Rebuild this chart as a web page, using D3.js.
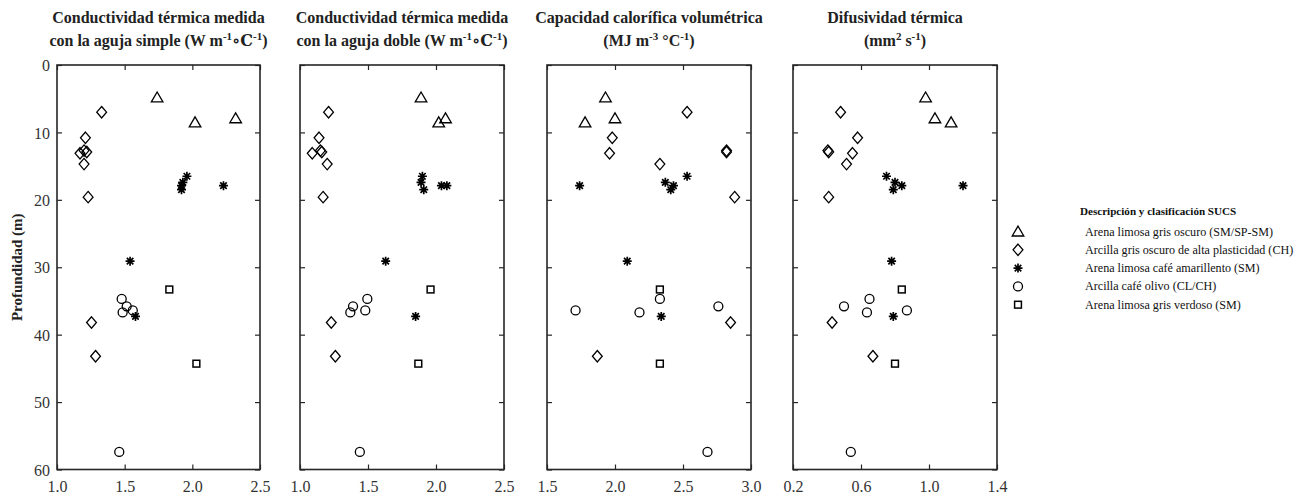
<!DOCTYPE html>
<html><head><meta charset="utf-8">
<script src="https://cdn.jsdelivr.net/npm/d3@7"></script>
<style>
body{margin:0;background:#fff;}
svg{display:block;font-family:"Liberation Serif","Times New Roman",serif;}
</style></head>
<body><svg id="chart" width="1310" height="498"></svg>
<script>
// ---- Data (depth in m) ----
const depthTri = [4.8, 7.9, 8.5];
const depthDia = [7.0, 10.8, 12.7, 12.9, 13.1, 14.7, 19.6, 38.2, 43.2];
const depthAst = [16.5, 17.4, 18.5, 17.9, 17.9, 29.1, 37.3];
const depthCir = [34.7, 35.8, 36.4, 36.7, 57.4];
const depthSq  = [33.3, 44.3];

// Panel 1: conductividad aguja simple
const kSimpleTri = [1.74, 2.32, 2.02];
const kSimpleDia = [1.33, 1.21, 1.20, 1.22, 1.17, 1.20, 1.23, 1.255, 1.285];
const kSimpleAst = [1.96, 1.93, 1.92, 2.23, 1.92, 1.54, 1.58];
const kSimpleCir = [1.478, 1.515, 1.56, 1.485, 1.46];
const kSimpleSq  = [1.83, 2.03];
// Panel 2: conductividad aguja doble
const kDobleTri = [1.89, 2.07, 2.02];
const kDobleDia = [1.21, 1.14, 1.15, 1.16, 1.09, 1.20, 1.17, 1.23, 1.26];
const kDobleAst = [1.90, 1.89, 1.91, 2.04, 2.08, 1.63, 1.85];
const kDobleCir = [1.495, 1.39, 1.48, 1.37, 1.44];
const kDobleSq  = [1.96, 1.87];
// Panel 3: capacidad calorífica volumétrica
const cTri = [1.93, 2.00, 1.78];
const cDia = [2.53, 1.98, 2.82, 2.82, 1.96, 2.33, 2.88, 2.85, 1.87];
const cAst = [2.53, 2.37, 2.41, 1.74, 2.43, 2.09, 2.34];
const cCir = [2.33, 2.76, 1.71, 2.18, 2.68];
const cSq  = [2.33, 2.33];
// Panel 4: difusividad térmica
const dTri = [0.98, 1.035, 1.13];
const dDia = [0.48, 0.58, 0.405, 0.41, 0.55, 0.515, 0.41, 0.43, 0.67];
const dAst = [0.75, 0.80, 0.79, 0.84, 1.20, 0.78, 0.79];
const dCir = [0.65, 0.50, 0.87, 0.635, 0.54];
const dSq  = [0.84, 0.80];

const xTicks1 = [1.0, 1.5, 2.0, 2.5];
const xTicks2 = [1.0, 1.5, 2.0, 2.5];
const xTicks3 = [1.5, 2.0, 2.5, 3.0];
const xTicks4 = [0.2, 0.6, 1.0, 1.4];
const yTicks = [0, 10, 20, 30, 40, 50, 60];

const seriesNames = [
  "Arena limosa gris oscuro (SM/SP-SM)",
  "Arcilla gris oscuro de alta plasticidad (CH)",
  "Arena limosa café amarillento (SM)",
  "Arcilla café olivo (CL/CH)",
  "Arena limosa gris verdoso (SM)"
];
const seriesShapes = ["tri", "dia", "ast", "cir", "sq"];
const depths = [depthTri, depthDia, depthAst, depthCir, depthSq];
const legendTitle = "Descripción y clasificación SUCS";
const yLabel = "Profundidad (m)";

// ---- Layout ----
const svg = d3.select("#chart");
const yTop = 65, yBot = 469.5;
const axisColor = "#262626";
const panels = [
  {x0: 57, x1: 260, dom: [1.0, 2.5], ticks: xTicks1, vals: [kSimpleTri, kSimpleDia, kSimpleAst, kSimpleCir, kSimpleSq],
   title: [[["Conductividad térmica medida"]], [["con la aguja simple (W m"], ["-1", "sup"], ["∘C"], ["-1", "sup"], [")"]]]},
  {x0: 300, x1: 504, dom: [1.0, 2.5], ticks: xTicks2, vals: [kDobleTri, kDobleDia, kDobleAst, kDobleCir, kDobleSq],
   title: [[["Conductividad térmica medida"]], [["con la aguja doble (W m"], ["-1", "sup"], ["∘C"], ["-1", "sup"], [")"]]]},
  {x0: 547, x1: 751, dom: [1.5, 3.0], ticks: xTicks3, vals: [cTri, cDia, cAst, cCir, cSq],
   title: [[["Capacidad calorífica volumétrica"]], [["(MJ m"], ["-3", "sup"], [" °C"], ["-1", "sup"], [")"]]]},
  {x0: 793, x1: 997, dom: [0.2, 1.4], ticks: xTicks4, vals: [dTri, dDia, dAst, dCir, dSq],
   title: [[["Difusividad térmica"]], [["(mm"], ["2", "sup"], [" s"], ["-1", "sup"], [")"]]]}
];

const y = d3.scaleLinear().domain([0, 60]).range([yTop, yBot]);

function drawMarker(g, shape, cx, cy) {
  const s = g.append("g").attr("transform", `translate(${cx},${cy})`)
    .attr("fill", "none").attr("stroke", "#000").attr("stroke-width", 1.3);
  if (shape === "tri") s.append("path").attr("d", "M0,-5.4L5.8,4.5L-5.8,4.5Z");
  else if (shape === "dia") s.append("path").attr("d", "M0,-5.7L4.9,0L0,5.7L-4.9,0Z");
  else if (shape === "cir") s.append("circle").attr("r", 4.5);
  else if (shape === "sq") s.append("rect").attr("x", -3.4).attr("y", -3.4).attr("width", 6.8).attr("height", 6.8).attr("stroke-width", 1.5);
  else if (shape === "ast") {
    s.attr("stroke-width", 1.7);
    const r = 4.5, d = r * 0.72;
    s.append("path").attr("d", `M${-r},0L${r},0M0,${-r}L0,${r}M${-d},${-d}L${d},${d}M${-d},${d}L${d},${-d}`);
  }
}

panels.forEach((p, pi) => {
  const x = d3.scaleLinear().domain(p.dom).range([p.x0, p.x1]);
  const g = svg.append("g");

  const bx = d3.axisBottom(x).tickValues(p.ticks).tickSizeInner(-5).tickSizeOuter(0).tickFormat(d3.format(".1f"));
  const tx = d3.axisTop(x).tickValues(p.ticks).tickSizeInner(-5).tickSizeOuter(0).tickFormat("");
  const ly = d3.axisLeft(y).tickValues(yTicks).tickSizeInner(-5).tickSizeOuter(0).tickFormat(pi === 0 ? d3.format("d") : "");
  const ry = d3.axisRight(y).tickValues(yTicks).tickSizeInner(-5).tickSizeOuter(0).tickFormat("");

  const gb = g.append("g").attr("transform", `translate(0,${yBot})`).call(bx);
  const gt = g.append("g").attr("transform", `translate(0,${yTop})`).call(tx);
  const gl = g.append("g").attr("transform", `translate(${p.x0},0)`).call(ly);
  const gr = g.append("g").attr("transform", `translate(${p.x1},0)`).call(ry);
  [gb, gt, gl, gr].forEach(a => {
    a.select(".domain").remove();
    a.selectAll(".tick line").attr("stroke", axisColor).attr("stroke-width", 1.2);
    a.selectAll(".tick text").attr("fill", "#333").attr("font-size", 16)
      .attr("font-family", "Liberation Serif, serif");
  });
  gb.selectAll(".tick text").attr("dy", null).attr("y", 22.5);
  gl.selectAll(".tick text").attr("x", -7).attr("dy", "0.35em");

  g.append("rect").attr("x", p.x0).attr("y", yTop).attr("width", p.x1 - p.x0).attr("height", yBot - yTop)
    .attr("fill", "none").attr("stroke", axisColor).attr("stroke-width", 1.6);

  p.vals.forEach((vals, si) => {
    vals.forEach((v, i) => drawMarker(g, seriesShapes[si], x(v), y(depths[si][i])));
  });

  const cx = (p.x0 + p.x1) / 2;
  p.title.forEach((line, li) => {
    const t = g.append("text").attr("x", cx).attr("y", 23 + li * 23)
      .attr("text-anchor", "middle").attr("font-weight", "bold").attr("font-size", 16).attr("fill", "#222");
    line.forEach(seg => {
      const ts = t.append("tspan").text(seg[0]);
      if (seg[1] === "sup") ts.attr("font-size", 11).attr("baseline-shift", "6");
      if (seg[0] === "∘C") ts.attr("font-family", "DejaVu Serif, serif");
    });
  });
});

svg.append("text").attr("transform", `translate(22,${(yTop + yBot) / 2}) rotate(-90)`)
  .attr("text-anchor", "middle").attr("font-weight", "bold").attr("font-size", 15).attr("fill", "#222")
  .text(yLabel);

const lg = svg.append("g");
lg.append("text").attr("x", 1080).attr("y", 215).attr("font-weight", "bold").attr("font-size", 11.1).attr("fill", "#111").text(legendTitle);
seriesNames.forEach((n, i) => {
  const ry = 231.5 + i * 18.3;
  drawMarker(lg, seriesShapes[i], 1018, ry);
  lg.append("text").attr("x", 1085).attr("y", ry + 4).attr("font-size", 12.1).attr("fill", "#111").text(n);
});
</script></body></html>
